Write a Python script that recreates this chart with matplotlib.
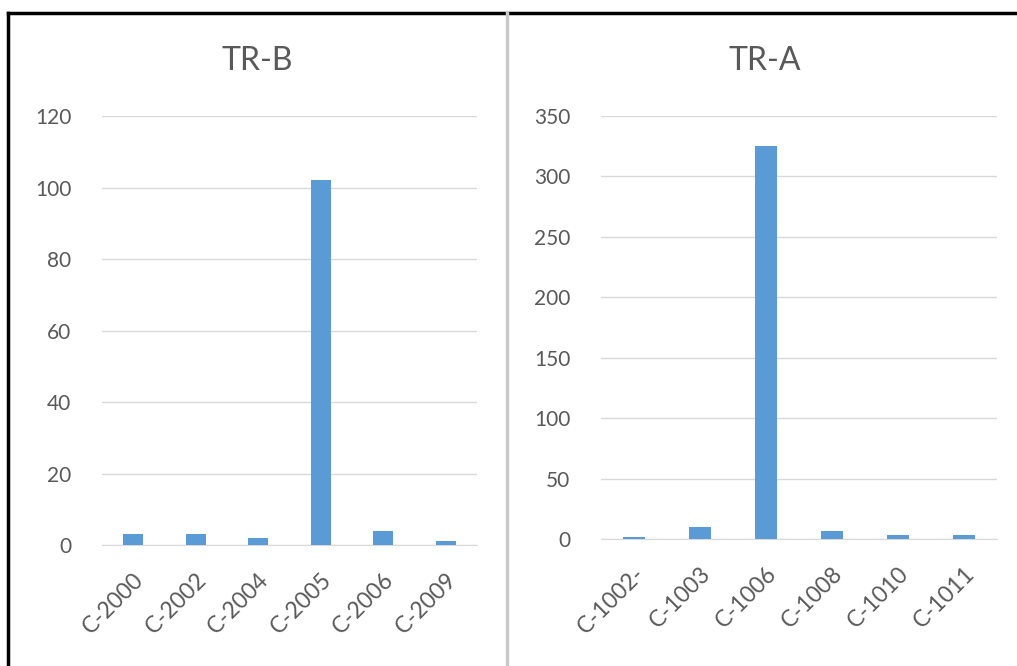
import matplotlib.pyplot as plt
from matplotlib.lines import Line2D

# TR-B panel
trb_labels = ['C-2000', 'C-2002', 'C-2004', 'C-2005', 'C-2006', 'C-2009']
trb_values = [3, 3, 2, 102, 4, 1]
trb_ticks = [0, 20, 40, 60, 80, 100, 120]

# TR-A panel
tra_labels = ['C-1002-', 'C-1003', 'C-1006', 'C-1008', 'C-1010', 'C-1011']
tra_values = [1.5, 10, 325, 7, 3.5, 3.5]
tra_ticks = [0, 50, 100, 150, 200, 250, 300, 350]

W, H = 1017, 666
bar_color = '#5b9bd5'
text_color = '#595959'
grid_color = '#d9d9d9'
font = 'Lato'


def px_axes(fig, x0, x1, ytop, ybot):
    return fig.add_axes([x0 / W, 1 - ybot / H, (x1 - x0) / W, (ybot - ytop) / H])


def draw_panel(ax, labels, values, ticks):
    x = range(len(labels))
    ax.bar(x, values, width=0.32, color=bar_color, zorder=3)
    ax.set_xlim(-0.5, len(labels) - 0.5)
    ax.set_ylim(ticks[0], ticks[-1])
    ax.set_yticks(ticks)
    ax.set_xticks(list(x))
    ax.set_xticklabels(labels, rotation=45, ha='right', rotation_mode='anchor')
    ax.yaxis.grid(True, color=grid_color, linewidth=1)
    ax.set_axisbelow(True)
    for s in ['top', 'right', 'left']:
        ax.spines[s].set_visible(False)
    ax.spines['bottom'].set_color(grid_color)
    ax.tick_params(axis='y', length=0, pad=22, labelsize=15, labelcolor=text_color)
    ax.tick_params(axis='x', length=0, pad=17, labelsize=16.5, labelcolor=text_color)
    for t in ax.get_xticklabels() + ax.get_yticklabels():
        t.set_fontfamily(font)


fig = plt.figure(figsize=(W / 100, H / 100), dpi=100)

ax1 = px_axes(fig, 102, 477, 116, 545)
draw_panel(ax1, trb_labels, trb_values, trb_ticks)

ax2 = px_axes(fig, 601, 997, 116, 539)
draw_panel(ax2, tra_labels, tra_values, tra_ticks)

fig.text(257 / W, 1 - 61 / H, 'TR-B', ha='center', va='center', fontsize=23,
         color=text_color, family=font)
fig.text(765 / W, 1 - 61 / H, 'TR-A', ha='center', va='center', fontsize=23,
         color=text_color, family=font)

# outer frame and divider
fig.add_artist(Line2D([8 / W, 1015 / W], [1 - 13 / H, 1 - 13 / H], color='black', linewidth=2.5,
                      transform=fig.transFigure))
fig.add_artist(Line2D([8 / W, 8 / W], [0, 1 - 13 / H], color='black', linewidth=2.5,
                      transform=fig.transFigure))
fig.add_artist(Line2D([507 / W, 507 / W], [0, 1 - 13 / H], color='#c8c8c8', linewidth=2.5,
                      transform=fig.transFigure))

fig.savefig('out.png', dpi=100)
